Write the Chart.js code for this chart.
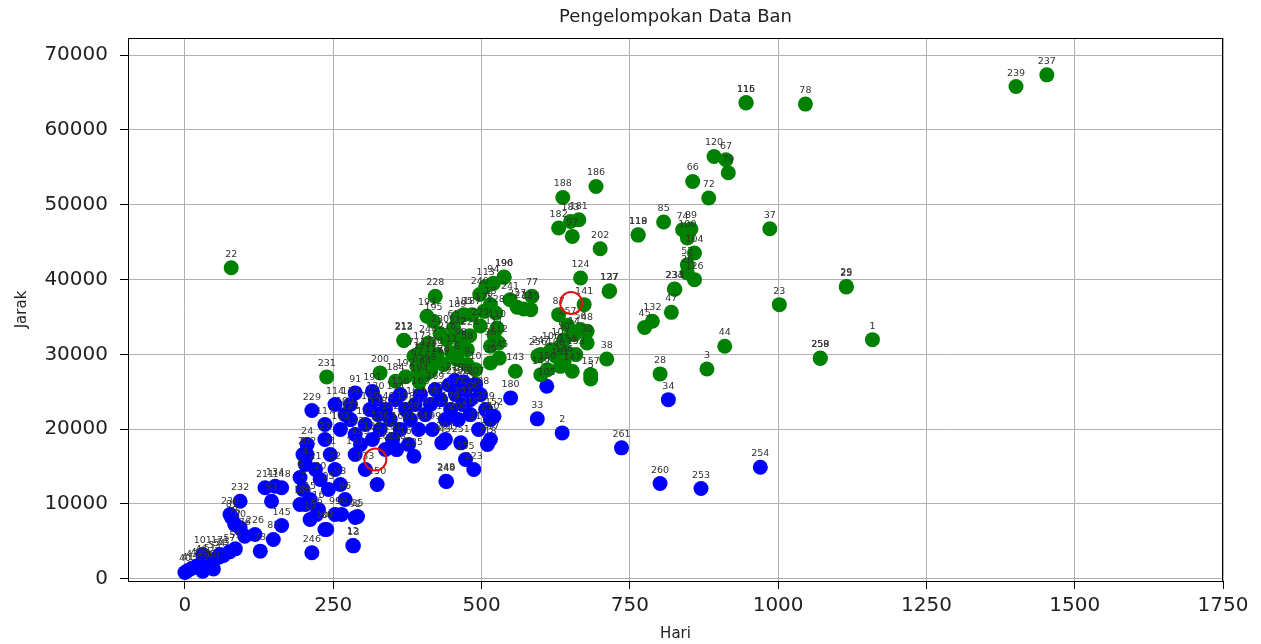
<!DOCTYPE html>
<html>
<head>
<meta charset="utf-8">
<script src="https://cdn.jsdelivr.net/npm/chart.js@4.4.1/dist/chart.umd.min.js"></script>
<style>
  html, body { margin: 0; padding: 0; background: #fff; }
  #wrap { width: 1261px; height: 644px; }
</style>
</head>
<body>
<div id="wrap"><canvas id="grafik" width="1261" height="644"></canvas></div>
<script>
// klaster biru
const labelBiru = [254,253,260,261,34,2,33,105,180,152,248,249,229,252,246,12,13,145,226,232,236,211,134,148,35,250,
  40,41,42,43,46,49,51,53,54,55,57,59,60,61,101,171,73,75,76,80,81,82,83,84,86,88,90,92,
  0,4,6,7,15,16,17,19,20,21,24,27,31,32,93,95,96,99,102,103,109,114,117,
  121,122,123,125,129,130,131,133,135,136,138,139,
  140,142,144,156,158,159,160,161,162,163,164,165,166,
  167,168,169,170,172,179,197,198,199,201,203,204,
  205,206,207,208,209,210,214,215,217,218,219,220,221,91,191,
  235,238,243,251,255,223];
const hariBiru = [970,870,801,736,815,636,594,610,549,521,440,441,214,206,214,283,284,163,118,93,76,135,152,163,291,324,
  0,5,12,20,28,35,42,50,58,65,75,85,48,30,30,59,127,84,101,93,79,149,146,203,222,239,264,287,
  199,203,194,199,211,225,194,211,228,220,206,236,245,253,262,242,270,253,236,262,270,253,236,
  279,287,296,304,312,321,287,304,316,329,326,279,
  338,346,355,363,372,380,363,350,388,397,394,377,338,
  405,414,422,431,439,448,456,464,417,439,468,461,
  473,481,490,498,507,515,495,481,515,510,455,470,445,287,316,
  386,357,433,465,473,487];
const jarakBiru = [14910,12060,12730,17500,23950,19500,21380,25730,24180,21720,13040,13000,22490,16570,3470,4450,4400,7120,5920,10370,8590,12160,12370,12160,8320,12600,
  840,1100,1400,1700,2100,1500,2300,2600,2900,3100,3600,4000,1300,1000,3250,3250,3690,7250,5690,6810,8150,5250,10370,9930,8590,6590,8590,8190,
  16610,15270,13530,11930,10590,9260,9930,7920,13270,14600,17950,18610,16610,14600,12600,11930,10590,8590,6590,19950,21950,23290,20620,
  21280,19280,17950,20620,22620,23950,16610,14600,18610,19950,21950,23290,
  22620,21280,23950,24620,22620,21280,19950,18610,23290,24620,19950,17950,17280,
  21950,23290,25290,23950,21280,22620,24620,25960,19950,18610,23290,21280,
  25290,23950,25960,24620,22620,21280,19950,21950,18610,17950,26500,26300,25900,24850,25050,
  16380,17270,18170,18170,15940,14600];

// klaster hijau
const labelHijau = [237,239,115,116,78,120,67,79,66,72,37,29,25,23,1,258,259,44,3,28,45,132,47,38,157,5,48,30,
  124,127,137,141,87,14,56,50,234,233,126,52,26,74,89,100,104,85,119,118,202,188,186,181,182,183,97,
  77,222,227,190,196,113,94,228,193,195,189,185,187,178,128,18,110,111,112,212,213,216,65,98,58,36,39,
  200,143,231,22,173,174,175,176,177,62,63,64,68,69,70,71,184,192,194,8,9,10,11,
  106,107,108,146,147,149,150,151,153,154,155,224,225,230,240,241,242,244,245,247,256,257];
const hariHijau = [1453,1401,946,946,1046,892,912,916,856,883,986,1115,1115,1002,1159,1071,1071,910,880,801,775,788,820,711,684,684,678,678,
  667,715,716,673,630,656,667,639,825,826,859,847,847,839,853,847,859,807,764,764,700,637,693,664,630,650,653,
  585,571,560,538,538,507,520,422,408,419,459,470,484,504,524,515,526,521,529,369,369,442,453,465,476,515,515,
  329,557,239,78,400,411,419,431,400,391,394,405,414,436,425,386,355,372,395,459,476,490,450,
  617,633,625,639,653,600,611,633,659,645,583,480,498,430,497,548,460,410,530,600,595,645];
const jarakHijau = [67370,65810,63670,63600,63460,56460,56030,54290,53120,50900,46800,39090,39000,36650,31970,29520,29450,31080,28050,27390,33600,34420,35620,29390,27290,26700,33080,31530,
  40210,38420,38500,36650,35310,32640,33310,31970,38740,38700,39990,41990,40880,46670,46760,45560,43550,47690,46000,45950,44130,50980,52450,48000,46890,47780,45770,
  37760,36070,36300,40350,40300,39090,39500,37760,35090,34420,34870,35310,35310,35750,35540,36650,33530,32640,31530,31880,31850,31970,33530,31080,30630,31080,28860,
  27520,27740,26990,41590,30630,29740,28860,28860,29300,28400,27520,27290,27740,28630,29970,29740,26400,27000,26300,29300,28630,27960,30200,
  30620,31080,29740,28900,27740,27290,27960,28400,29970,30200,35980,32500,33800,32800,38000,37300,32600,31500,29500,30000,29800,33900];

// pusat klaster
const centroidHari = [321, 651];
const centroidJarak = [15940, 36870];

const xTicks = [0, 250, 500, 750, 1000, 1250, 1500, 1750];
const yTicks = [0, 10000, 20000, 30000, 40000, 50000, 60000, 70000];

const FONT = '"DejaVu Sans", "Liberation Sans", sans-serif';

const titik = (xs, ys) => xs.map((x, i) => ({ x: x, y: ys[i] }));

// tulis nomor data di atas tiap titik (setelah klaster hijau digambar)
const labelTitik = {
  id: 'labelTitik',
  afterDatasetDraw(chart, args) {
    if (args.index !== 1) return;
    const ctx = chart.ctx;
    ctx.save();
    ctx.font = '9.5px ' + FONT;
    ctx.fillStyle = '#333';
    ctx.textAlign = 'center';
    [[0, labelBiru], [1, labelHijau]].forEach(([i, lbl]) => {
      chart.getDatasetMeta(i).data.forEach((p, j) => {
        ctx.fillText(String(lbl[j]), p.x, p.y - 11);
      });
    });
    ctx.restore();
  }
};

// judul, label sumbu dan bingkai
const teksSumbu = {
  id: 'teksSumbu',
  afterDraw(chart) {
    const ctx = chart.ctx;
    const a = chart.chartArea;
    const cx = (a.left + a.right) / 2;
    ctx.save();
    ctx.strokeStyle = '#000';
    ctx.lineWidth = 1;
    ctx.strokeRect(a.left + 0.5, a.top + 0.5, a.right - a.left - 1, a.bottom - a.top);
    ctx.fillStyle = '#222';
    ctx.textAlign = 'center';
    ctx.textBaseline = 'middle';
    ctx.font = '18px ' + FONT;
    ctx.fillText('Pengelompokan Data Ban', cx, 17);
    ctx.font = '15px ' + FONT;
    ctx.fillText('Hari', cx, 634);
    ctx.translate(22, (a.top + a.bottom) / 2);
    ctx.rotate(-Math.PI / 2);
    ctx.fillText('Jarak', 0, 0);
    ctx.restore();
  }
};

new Chart(document.getElementById('grafik'), {
  type: 'scatter',
  data: {
    datasets: [
      {
        label: 'Klaster 0',
        data: titik(hariBiru, jarakBiru),
        backgroundColor: '#0000ff',
        borderWidth: 0,
        pointRadius: 7.5,
        order: 3
      },
      {
        label: 'Klaster 1',
        data: titik(hariHijau, jarakHijau),
        backgroundColor: '#008000',
        borderWidth: 0,
        pointRadius: 7.5,
        order: 2
      },
      {
        label: 'Centroid',
        data: titik(centroidHari, centroidJarak),
        backgroundColor: 'rgba(0,0,0,0)',
        borderColor: '#e01010',
        borderWidth: 2,
        pointRadius: 11,
        order: 1
      }
    ]
  },
  options: {
    responsive: false,
    devicePixelRatio: 1,
    animation: false,
    layout: { padding: { top: 38, right: 38, left: 0, bottom: 0 } },
    plugins: {
      legend: { display: false },
      tooltip: { enabled: false },
      title: { display: false }
    },
    scales: {
      x: {
        type: 'linear',
        min: -96,
        max: 1750,
        afterBuildTicks: s => { s.ticks = xTicks.map(v => ({ value: v })); },
        afterFit: s => { s.height = 63; },
        grid: { color: '#b0b0b0', lineWidth: 1, tickColor: '#000', tickLength: 8 },
        border: { display: true, color: '#000', width: 1 },
        ticks: { font: { family: FONT, size: 20 }, color: '#222', padding: 5, maxRotation: 0, autoSkip: false, callback: v => String(v) }
      },
      y: {
        type: 'linear',
        min: -300,
        max: 72300,
        afterBuildTicks: s => { s.ticks = yTicks.map(v => ({ value: v })); },
        afterFit: s => { s.width = 128; },
        grid: { color: '#b0b0b0', lineWidth: 1, tickColor: '#000', tickLength: 8 },
        border: { display: true, color: '#000', width: 1 },
        ticks: { font: { family: FONT, size: 20 }, color: '#222', padding: 12, autoSkip: false, callback: v => String(v) }
      }
    }
  },
  plugins: [labelTitik, teksSumbu]
});
</script>
</body>
</html>
